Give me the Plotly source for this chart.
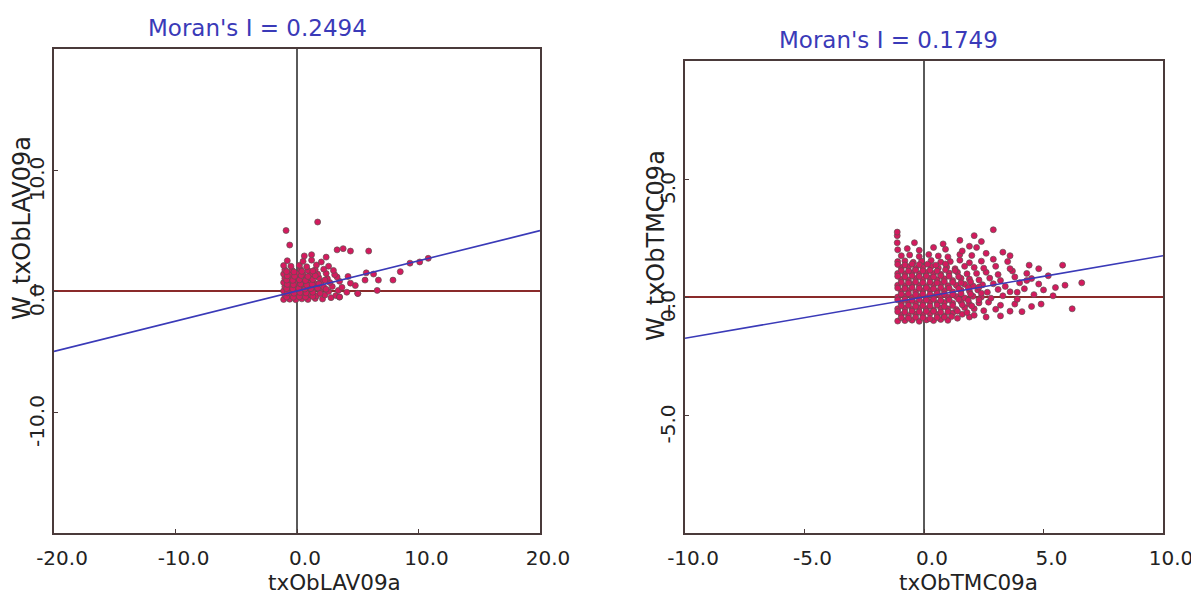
import plotly.graph_objects as go

# ---------------- data ----------------
moran_lav = 0.2494
moran_tmc = 0.1749
lav_range = [-20, 20]
tmc_range = [-10, 10]
lav_ticks = [-20, -10, 0, 10, 20]
tmc_ticks = [-10, -5, 0, 5, 10]
lav_yticks = [-10, 0, 10]
tmc_yticks = [-5, 0, 5]

lav_x = [
    -1.1, -0.6, -0.1, 0.4, 0.9, 1.5, 2.1, 2.8,
    -1.0, -0.5, 0.0, 0.5, 1.1, 1.6, 2.3, 3.2, 3.5,
    -1.1, -0.6, -0.2, 0.3, 0.8, 1.3, 1.9, 2.6, 3.4, 4.1, 5.0, 6.6,
    -1.0, -0.5, 0.1, 0.6, 1.0, 1.5, 2.2, 2.9, 3.7, 4.8,
    -1.1, -0.7, -0.2, 0.4, 0.9, 1.4, 2.0, 2.7, 3.5, 4.4, 5.6,
    -1.0, -0.4, 0.1, 0.7, 1.2, 1.8, 2.5, 3.3, 4.2,
    -1.1, -0.6, 0.0, 0.5, 1.1, 1.7, 2.4, 3.1,
    -1.0, -0.4, 0.3, 0.9, 1.5, 2.2, 3.0,
    -1.1, -0.5, 0.2, 0.8, 1.6, 2.6,
    -0.8, 0.5, 1.2, 2.0,
    -0.85, -0.3, 0.2, 0.7, 1.3,
    -0.8, -0.25, 0.25, 0.75, 1.3, 1.9,
    -0.85, -0.35, 0.15, 0.65, 1.15, 1.7, 2.4,
    -0.8, -0.3, 0.3, 0.8, 1.25, 1.8,
    -0.85, -0.35, 0.2, 0.7, 1.3, 2.3,
    -0.8, -0.2, 0.35, 0.9, 1.5,
    -0.85, -0.25, 0.4, 1.3,
    1.7, -0.9, -0.6, 3.3, 3.8, 4.4, 5.9, 1.2, 0.6, 2.4,
    9.3, 10.1, 10.8, 8.5, 7.9, 6.3, 6.7, 5.7, 3.5, 5.0,
]
lav_y = [
    -0.7, -0.68, -0.72, -0.65, -0.7, -0.62, -0.66, -0.55,
    -0.35, -0.38, -0.32, -0.36, -0.3, -0.4, -0.33, -0.38, -0.5,
    0.0, 0.03, -0.02, 0.02, -0.03, 0.01, 0.04, -0.05, 0.05, -0.1, -0.2, 0.05,
    0.35, 0.33, 0.38, 0.3, 0.36, 0.4, 0.32, 0.37, 0.3, 0.45,
    0.7, 0.72, 0.68, 0.74, 0.7, 0.66, 0.75, 0.7, 0.8, 0.65, 0.9,
    1.05, 1.02, 1.08, 1.0, 1.06, 1.1, 1.03, 1.15, 1.2,
    1.4, 1.38, 1.43, 1.36, 1.42, 1.4, 1.45, 1.35,
    1.75, 1.72, 1.78, 1.7, 1.76, 1.8, 1.7,
    2.1, 2.05, 2.12, 2.0, 2.15, 2.05,
    2.5, 2.45, 2.55, 2.4,
    -0.5, -0.52, -0.48, -0.5, -0.45,
    -0.15, -0.18, -0.12, -0.16, -0.1, -0.2,
    0.2, 0.18, 0.22, 0.16, 0.2, 0.24, 0.15,
    0.55, 0.52, 0.58, 0.5, 0.56, 0.6,
    0.9, 0.88, 0.92, 0.86, 0.95, 0.9,
    1.25, 1.22, 1.28, 1.2, 1.26,
    1.6, 1.58, 1.62, 1.65,
    5.7, 5.0, 3.8, 3.4, 3.5, 3.3, 3.3, 3.0, 2.9, 2.8,
    2.3, 2.4, 2.7, 1.6, 0.9, 1.4, 0.9, 1.5, -0.5, -0.2,
]

tmc_x = [
    -1.1, -0.8, -0.5, -0.2, 0.1, 0.4, 0.7, 1.0, 1.4, 1.9,
    -0.95, -0.65, -0.35, -0.05, 0.25, 0.55, 0.85, 1.2, 1.6, 2.1, 2.6, 3.2,
    -1.1, -0.8, -0.5, -0.2, 0.1, 0.4, 0.7, 1.0, 1.35, 1.7, 2.1, 2.5, 3.0, 3.6, 4.1,
    -0.95, -0.65, -0.35, -0.05, 0.25, 0.55, 0.85, 1.2, 1.55, 1.9, 2.3, 2.7, 3.2, 3.8, 4.5,
    -1.1, -0.8, -0.5, -0.2, 0.1, 0.4, 0.7, 1.0, 1.35, 1.7, 2.05, 2.4, 2.8, 3.3, 3.9, 4.6, 5.4,
    -0.95, -0.65, -0.35, -0.05, 0.25, 0.55, 0.85, 1.2, 1.55, 1.9, 2.25, 2.65, 3.1, 3.6, 4.2, 5.0,
    -1.1, -0.8, -0.5, -0.2, 0.1, 0.4, 0.7, 1.0, 1.35, 1.7, 2.05, 2.45, 2.9, 3.4, 4.0, 4.8, 5.9,
    -0.95, -0.65, -0.35, -0.05, 0.25, 0.55, 0.85, 1.2, 1.55, 1.9, 2.3, 2.75, 3.2, 3.8, 4.5, 6.6,
    -1.1, -0.8, -0.5, -0.2, 0.1, 0.4, 0.7, 1.05, 1.4, 1.8, 2.2, 2.6, 3.1, 3.7, 4.3,
    -0.95, -0.65, -0.35, -0.05, 0.3, 0.6, 0.95, 1.3, 1.7, 2.1, 2.5, 3.0, 3.6, 4.4, 5.8,
    -1.1, -0.8, -0.45, -0.1, 0.3, 0.7, 1.1, 1.5, 1.9, 2.4, 2.9, 3.5,
    -0.95, -0.6, -0.2, 0.2, 0.6, 1.0, 1.5, 2.0, 2.6,
    -1.1, -0.7, -0.2, 0.4, 0.9, 1.6, 2.2, 3.3,
    -1.12, -1.12, -1.12, -0.4, 0.8, 1.5, 1.9, 2.4, 2.9, 2.1,
    3.6, 4.8, 5.2, 6.2, 5.5, 4.9, 4.3, 3.9,
    -0.95, -0.65, -0.35, -0.05, 0.25, 0.55, 0.85, 1.15,
    -1.1, -0.8, -0.5, -0.2, 0.1, 0.4, 0.7, 1.0, 1.4, 1.8,
    -0.95, -0.65, -0.35, -0.05, 0.25, 0.55, 0.85, 1.2, 1.6, 2.0,
    -1.1, -0.8, -0.5, -0.2, 0.1, 0.4, 0.7, 1.05, 1.45, 1.85, 2.3,
    -0.95, -0.65, -0.35, -0.05, 0.25, 0.55, 0.85, 1.2, 1.55, 1.95, 2.4,
    -1.1, -0.8, -0.5, -0.2, 0.1, 0.4, 0.7, 1.05, 1.45, 1.85, 2.3,
    -0.95, -0.65, -0.35, -0.05, 0.25, 0.55, 0.85, 1.2, 1.55, 1.95,
    -1.1, -0.8, -0.5, -0.2, 0.1, 0.4, 0.7, 1.05, 1.45,
    -0.95, -0.65, -0.35, -0.05, 0.25, 0.55, 0.9, 1.3,
    -1.1, -0.8, -0.5, -0.2, 0.15, 0.5, 0.9,
]
tmc_y = [
    -1.02, -1.0, -0.98, -1.03, -0.97, -1.0, -0.95, -0.99, -0.9, -0.85,
    -0.75, -0.78, -0.72, -0.76, -0.7, -0.74, -0.8, -0.68, -0.73, -0.77, -0.85, -0.8,
    -0.5, -0.48, -0.52, -0.46, -0.5, -0.55, -0.47, -0.5, -0.53, -0.45, -0.5, -0.58, -0.52, -0.6, -0.62,
    -0.25, -0.22, -0.28, -0.24, -0.2, -0.27, -0.23, -0.26, -0.2, -0.3, -0.25, -0.22, -0.35, -0.3, -0.4,
    0.0, 0.03, -0.02, 0.02, -0.03, 0.01, 0.04, -0.01, 0.02, -0.04, 0.03, 0.0, -0.05, 0.05, -0.1, 0.1, 0.05,
    0.25, 0.28, 0.22, 0.26, 0.3, 0.24, 0.27, 0.22, 0.29, 0.25, 0.3, 0.2, 0.32, 0.22, 0.35, 0.3,
    0.5, 0.47, 0.53, 0.5, 0.46, 0.52, 0.55, 0.48, 0.5, 0.54, 0.47, 0.52, 0.56, 0.45, 0.6, 0.55, 0.5,
    0.75, 0.72, 0.78, 0.74, 0.8, 0.73, 0.77, 0.7, 0.79, 0.76, 0.72, 0.8, 0.7, 0.85, 0.78, 0.6,
    1.0, 0.97, 1.03, 0.98, 1.04, 1.0, 0.96, 1.02, 1.05, 0.98, 1.0, 1.05, 0.95, 1.1, 1.0,
    1.25, 1.28, 1.22, 1.26, 1.3, 1.23, 1.27, 1.2, 1.3, 1.25, 1.22, 1.3, 1.2, 1.35, 1.35,
    1.5, 1.53, 1.47, 1.52, 1.55, 1.48, 1.5, 1.56, 1.45, 1.52, 1.6, 1.5,
    1.75, 1.78, 1.72, 1.8, 1.74, 1.7, 1.8, 1.76, 1.85,
    2.0, 2.05, 1.98, 2.1, 2.02, 1.95, 2.1, 1.9,
    2.3, 2.6, 2.75, 2.3, 2.25, 2.4, 2.15, 2.35, 2.85, 2.6,
    1.75, 1.2, 0.9, -0.5, 0.4, -0.3, 0.7, 0.2,
    -0.88, -0.9, -0.86, -0.88, -0.92, -0.87, -0.85, -0.83,
    -0.62, -0.64, -0.6, -0.63, -0.61, -0.6, -0.65, -0.62, -0.6, -0.66,
    -0.37, -0.35, -0.4, -0.36, -0.38, -0.34, -0.4, -0.36, -0.33, -0.38,
    -0.12, -0.1, -0.14, -0.11, -0.13, -0.1, -0.15, -0.12, -0.1, -0.14, -0.12,
    0.12, 0.14, 0.1, 0.13, 0.11, 0.15, 0.12, 0.1, 0.14, 0.12, 0.16,
    0.38, 0.36, 0.4, 0.37, 0.39, 0.35, 0.4, 0.38, 0.36, 0.4, 0.42,
    0.62, 0.6, 0.64, 0.61, 0.63, 0.6, 0.65, 0.62, 0.6, 0.64,
    0.88, 0.86, 0.9, 0.87, 0.89, 0.85, 0.9, 0.88, 0.86,
    1.12, 1.1, 1.14, 1.11, 1.13, 1.1, 1.15, 1.12,
    1.38, 1.36, 1.4, 1.37, 1.39, 1.35, 1.4,
]

# ---------------- figure ----------------
W, H = 1199, 595
PAGE_OFFSET = 8          # default body margin of the page holding the figure
FONT = "DejaVu Sans"
AXIS_COL = "#4a3a3a"
BLUE = "#3a3ab8"

def px_x(p):
    return (p - PAGE_OFFSET) / W

def px_y(p):
    return 1 - (p - PAGE_OFFSET) / H

fig = go.Figure()

marker = dict(size=6, color="#d41a5e", line=dict(color="#5e5050", width=0.7))

fig.add_trace(go.Scatter(x=lav_x, y=lav_y, mode="markers", marker=marker,
                         xaxis="x", yaxis="y", showlegend=False))
fig.add_trace(go.Scatter(x=lav_range, y=[moran_lav * v for v in lav_range], mode="lines",
                         line=dict(color=BLUE, width=1.6), xaxis="x", yaxis="y", showlegend=False))
fig.add_trace(go.Scatter(x=tmc_x, y=tmc_y, mode="markers", marker=marker,
                         xaxis="x2", yaxis="y2", showlegend=False))
fig.add_trace(go.Scatter(x=tmc_range, y=[moran_tmc * v for v in tmc_range], mode="lines",
                         line=dict(color=BLUE, width=1.6), xaxis="x2", yaxis="y2", showlegend=False))

def xaxis_cfg(domain, rng, ticks, anchor):
    return dict(domain=domain, range=rng, tickvals=ticks,
                ticktext=[f"{t:.1f}" for t in ticks], anchor=anchor, automargin=False,
                showgrid=False, zeroline=True, zerolinecolor="#5a5a5a", zerolinewidth=2,
                showline=True, mirror=True, linecolor=AXIS_COL, linewidth=2,
                ticks="inside", ticklen=4, tickcolor=AXIS_COL,
                tickfont=dict(family=FONT, size=20, color="#222222"),
                ticklabelshift=8, ticklabelstandoff=6, fixedrange=True)

def yaxis_cfg(domain, rng, ticks, anchor):
    return dict(domain=domain, range=rng, tickvals=ticks,
                ticktext=[f"{t:.1f}" for t in ticks], anchor=anchor, automargin=False,
                showgrid=False, zeroline=True, zerolinecolor="#8a2a2a", zerolinewidth=2,
                showline=True, mirror=True, linecolor=AXIS_COL, linewidth=2,
                ticks="inside", ticklen=4, tickcolor=AXIS_COL, tickangle=-90,
                tickfont=dict(family=FONT, size=20, color="#222222"),
                ticklabelshift=12, ticklabelstandoff=0, fixedrange=True)

fig.update_layout(
    width=W, height=H, autosize=False,
    margin=dict(l=0, r=0, t=0, b=0, pad=0, autoexpand=False),
    paper_bgcolor="white", plot_bgcolor="white",
    xaxis=xaxis_cfg([px_x(54), px_x(540)], lav_range, lav_ticks, "y"),
    yaxis=yaxis_cfg([px_y(533), px_y(49)], lav_range, lav_yticks, "x"),
    xaxis2=xaxis_cfg([px_x(685), px_x(1163)], tmc_range, tmc_ticks, "y2"),
    yaxis2=yaxis_cfg([px_y(533), px_y(61)], tmc_range, tmc_yticks, "x2"),
)

ann = [
    dict(text=f"Moran's I = {moran_lav:.4f}", x=px_x(257), y=px_y(28), size=23, color=BLUE, angle=0),
    dict(text=f"Moran's I = {moran_tmc:.4f}", x=px_x(888), y=px_y(40), size=23, color=BLUE, angle=0),
    dict(text="txObLAV09a", x=px_x(334), y=px_y(582), size=21.5, color="#222222", angle=0),
    dict(text="txObTMC09a", x=px_x(968), y=px_y(582), size=21.5, color="#222222", angle=0),
    dict(text="W_txObLAV09a", x=px_x(22), y=px_y(228), size=24, color="#222222", angle=-90),
    dict(text="W_txObTMC09a", x=px_x(656), y=px_y(246), size=24, color="#222222", angle=-90),
]
for a in ann:
    fig.add_annotation(text=a["text"], x=a["x"], y=a["y"], xref="paper", yref="paper",
                       xanchor="center", yanchor="middle", showarrow=False, textangle=a["angle"],
                       font=dict(family=FONT, size=a["size"], color=a["color"]))

fig.write_html("out.html")
